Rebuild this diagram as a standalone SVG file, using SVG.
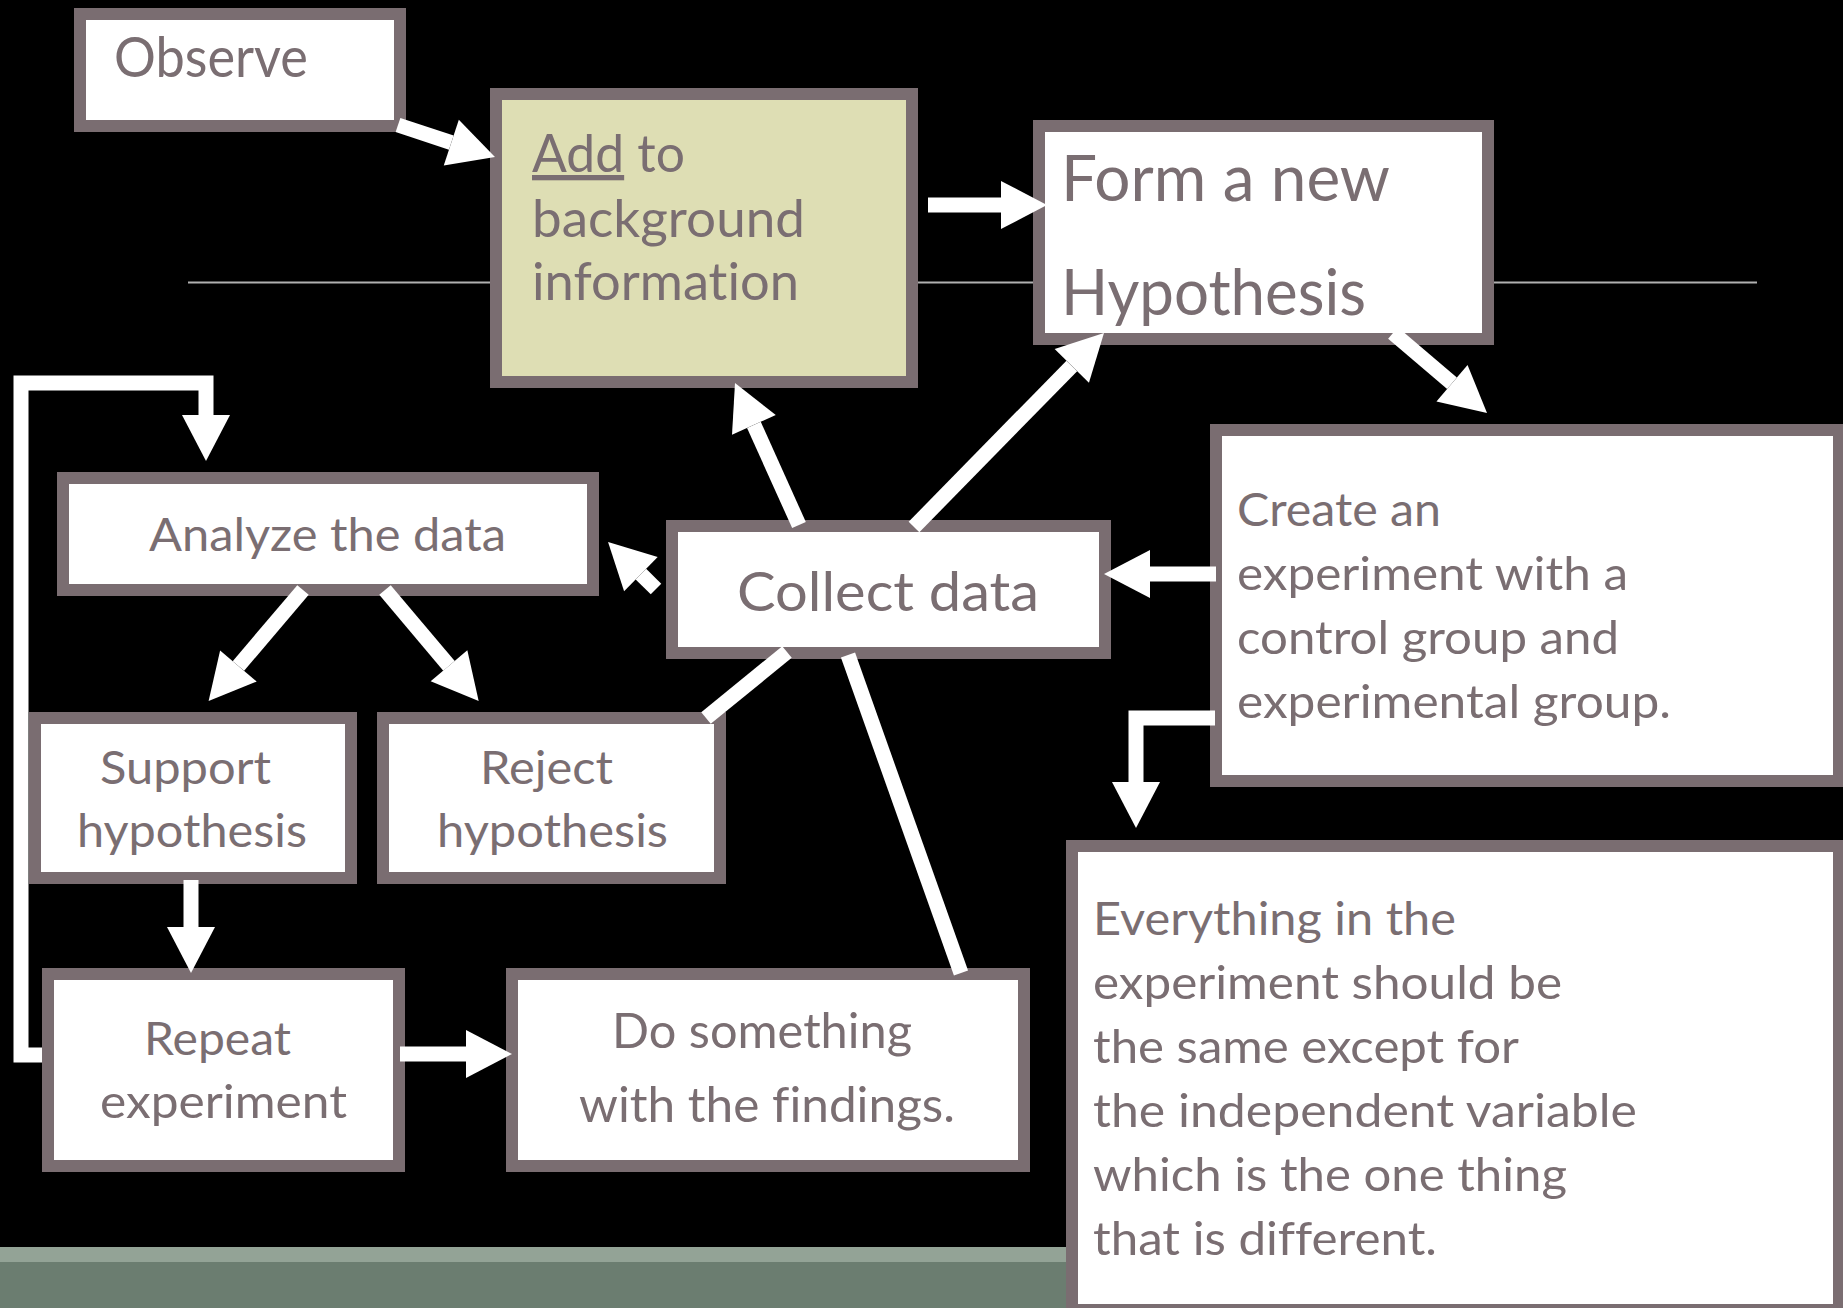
<svg xmlns="http://www.w3.org/2000/svg" width="1843" height="1308" viewBox="0 0 1843 1308">
  <style>
    .box { fill: #ffffff; stroke: #7a6d71; stroke-width: 12; }
    .box.tan { fill: #dedeb4; }
    .t { font-family: Lato, "Open Sans", "Liberation Sans", sans-serif; fill: #7a6e72; font-variant-ligatures: none; }
    .s47 { font-size: 47px; }
    .s48 { font-size: 48px; }
    .s53 { font-size: 53px; }
    .s55 { font-size: 55px; }
    .s57 { font-size: 57px; }
    .s64 { font-size: 64px; }
    .wire { fill: none; stroke: #ffffff; stroke-width: 15; stroke-linecap: butt; stroke-linejoin: miter; }
  </style>
  <defs>
    <marker id="head" markerUnits="userSpaceOnUse" markerWidth="48" markerHeight="50" viewBox="0 -25 48 50" refX="0" refY="0" orient="auto" overflow="visible">
      <path d="M0,-24 L46,0 L0,24 Z" fill="#ffffff"/>
    </marker>
  </defs>

  <!-- backdrop -->
  <rect x="0" y="0" width="1843" height="1308" fill="#000000"/>
  <rect x="0" y="1247" width="1843" height="15" fill="#93a396"/>
  <rect x="0" y="1262" width="1843" height="46" fill="#6b7d70"/>
  <line x1="188" y1="282.5" x2="1757" y2="282.5" stroke="#b0b0b0" stroke-width="2"/>

  <!-- nodes -->
  <g id="observe">
    <rect class="box" x="80" y="14" width="320" height="112"/>
    <text class="t s57" x="114" y="77" textLength="194" lengthAdjust="spacingAndGlyphs">Observe</text>
  </g>

  <g id="background">
    <rect class="box tan" x="496" y="94" width="416" height="288"/>
    <text class="t s53" x="532" y="172" textLength="153" lengthAdjust="spacingAndGlyphs"><tspan style="text-decoration:underline">Add</tspan> to</text>
    <text class="t s53" x="532" y="237" textLength="273" lengthAdjust="spacingAndGlyphs">background</text>
    <text class="t s53" x="532" y="300" textLength="267" lengthAdjust="spacingAndGlyphs">information</text>
  </g>

  <g id="hypothesis">
    <rect class="box" x="1039" y="126" width="449" height="213"/>
    <text class="t s64" x="1061" y="201" textLength="329" lengthAdjust="spacingAndGlyphs">Form a new</text>
    <text class="t s64" x="1061" y="315" textLength="305" lengthAdjust="spacingAndGlyphs">Hypothesis</text>
  </g>

  <g id="create">
    <rect class="box" x="1216" y="430" width="623" height="351"/>
    <text class="t s47" x="1237" y="526" textLength="204" lengthAdjust="spacingAndGlyphs">Create an</text>
    <text class="t s47" x="1237" y="590" textLength="391" lengthAdjust="spacingAndGlyphs">experiment with a</text>
    <text class="t s47" x="1237" y="654" textLength="382" lengthAdjust="spacingAndGlyphs">control group and</text>
    <text class="t s47" x="1237" y="718" textLength="434" lengthAdjust="spacingAndGlyphs">experimental group.</text>
  </g>

  <g id="collect">
    <rect class="box" x="672" y="526" width="433" height="127"/>
    <text class="t s55" x="737" y="611" textLength="302" lengthAdjust="spacingAndGlyphs">Collect data</text>
  </g>

  <g id="analyze">
    <rect class="box" x="63" y="478" width="530" height="112"/>
    <text class="t s47" x="149" y="551" textLength="357" lengthAdjust="spacingAndGlyphs">Analyze the data</text>
  </g>

  <g id="support">
    <rect class="box" x="35" y="718" width="316" height="160"/>
    <text class="t s47" x="100" y="784" textLength="171" lengthAdjust="spacingAndGlyphs">Support</text>
    <text class="t s47" x="77" y="847" textLength="230" lengthAdjust="spacingAndGlyphs">hypothesis</text>
  </g>

  <g id="reject">
    <rect class="box" x="383" y="718" width="337" height="160"/>
    <text class="t s47" x="480" y="784" textLength="133" lengthAdjust="spacingAndGlyphs">Reject</text>
    <text class="t s47" x="437" y="847" textLength="231" lengthAdjust="spacingAndGlyphs">hypothesis</text>
  </g>

  <g id="repeat">
    <rect class="box" x="48" y="974" width="351" height="192"/>
    <text class="t s47" x="144" y="1055" textLength="147" lengthAdjust="spacingAndGlyphs">Repeat</text>
    <text class="t s47" x="100" y="1118" textLength="247" lengthAdjust="spacingAndGlyphs">experiment</text>
  </g>

  <g id="findings">
    <rect class="box" x="512" y="974" width="512" height="192"/>
    <text class="t s48" x="612" y="1048" textLength="300" lengthAdjust="spacingAndGlyphs">Do something</text>
    <text class="t s48" x="579" y="1122" textLength="376" lengthAdjust="spacingAndGlyphs">with the findings.</text>
  </g>

  <g id="controls">
    <rect class="box" x="1072" y="846" width="767" height="464"/>
    <text class="t s47" x="1093" y="935" textLength="363" lengthAdjust="spacingAndGlyphs">Everything in the</text>
    <text class="t s47" x="1093" y="999" textLength="469" lengthAdjust="spacingAndGlyphs">experiment should be</text>
    <text class="t s47" x="1093" y="1063" textLength="426" lengthAdjust="spacingAndGlyphs">the same except for</text>
    <text class="t s47" x="1093" y="1127" textLength="544" lengthAdjust="spacingAndGlyphs">the independent variable</text>
    <text class="t s47" x="1093" y="1191" textLength="474" lengthAdjust="spacingAndGlyphs">which is the one thing</text>
    <text class="t s47" x="1093" y="1255" textLength="344" lengthAdjust="spacingAndGlyphs">that is different.</text>
  </g>

  <!-- connectors -->
  <g id="connectors">
    <path class="wire" d="M398,125 L451.3,142.6" marker-end="url(#head)"/>
    <path class="wire" d="M928,205 L1001,205" marker-end="url(#head)"/>
    <path class="wire" d="M1393,333 L1452,383.2" marker-end="url(#head)"/>
    <path class="wire" d="M1216,574 L1150,574" marker-end="url(#head)"/>
    <path class="wire" d="M1215,718 H1136 V782" marker-end="url(#head)"/>
    <path class="wire" d="M799,525 L753.9,424.9" marker-end="url(#head)"/>
    <path class="wire" d="M914,527 L1071.8,365.9" marker-end="url(#head)"/>
    <path class="wire" d="M656,589 L640.9,574.2" marker-end="url(#head)"/>
    <path class="wire" d="M303,590 L238.4,666" marker-end="url(#head)"/>
    <path class="wire" d="M385,590 L449,665.8" marker-end="url(#head)"/>
    <path class="wire" d="M787,652 L706,718"/>
    <path class="wire" d="M848,655 L961,973"/>
    <path class="wire" d="M191,880 V927" marker-end="url(#head)"/>
    <path class="wire" d="M400,1054 H466" marker-end="url(#head)"/>
    <path class="wire" d="M42,1055 H21 V383 H206 V415" marker-end="url(#head)"/>
  </g>
</svg>
